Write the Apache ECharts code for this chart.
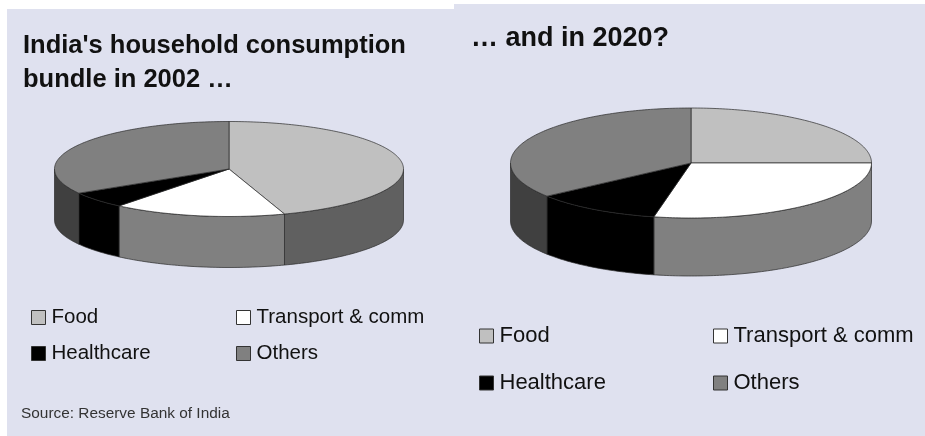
<!DOCTYPE html>
<html>
<head>
<meta charset="utf-8">
<script src="https://cdn.jsdelivr.net/npm/echarts@6/dist/echarts.min.js"></script>
<style>
html, body { margin: 0; padding: 0; background: #fff; }
#main { width: 925px; height: 436px; }
</style>
</head>
<body>
<div id="main"></div>
<script>
const categories = ["Food", "Transport & comm", "Healthcare", "Others"];
// share of each category in %, clockwise from 12 o'clock
const values2002 = [44.85, 16, 5.65, 33.5];
const values2020 = [25, 28.3, 11.4, 35.3];
const topColors = ["#c0c0c0", "#ffffff", "#000000", "#808080"];
const sideColors = ["#606060", "#808080", "#000000", "#404040"];

const pieValues = [values2002, values2020];
const pies = [
  { cx: 229, cy: 169, rx: 174.5, ry: 47.5, depth: 51 },
  { cx: 691, cy: 163, rx: 180.5, ry: 55, depth: 58 }
];
const panelColor = "#dfe1ef";
const lineColor = "#2a2a2a";

function rimPoint(pie, deg, drop) {
  // deg is clockwise from the top of the ellipse
  const a = deg * Math.PI / 180;
  return [pie.cx + pie.rx * Math.sin(a), pie.cy - pie.ry * Math.cos(a) + drop];
}

function arcPoints(pie, from, to, drop) {
  const pts = [];
  const steps = Math.max(2, Math.ceil(Math.abs(to - from)));
  for (let i = 0; i <= steps; i++) {
    pts.push(rimPoint(pie, from + (to - from) * i / steps, drop));
  }
  return pts;
}

function makeRender(catIndex) {
  return function (params, api) {
    const pieIndex = api.value(0);
    const pie = pies[pieIndex];
    const vals = pieValues[pieIndex];
    const total = vals.reduce((s, v) => s + v, 0);
    const before = vals.slice(0, catIndex).reduce((s, v) => s + v, 0);
    const start = before / total * 360;
    const end = start + api.value(1) / total * 360;
    const children = [];

    // only the front half of the rim shows a wall
    const wallFrom = Math.max(start, 90);
    const wallTo = Math.min(end, 270);
    if (wallTo > wallFrom) {
      const upper = arcPoints(pie, wallFrom, wallTo, 0);
      const lower = arcPoints(pie, wallTo, wallFrom, pie.depth);
      children.push({
        type: "polygon",
        shape: { points: upper.concat(lower) },
        style: { fill: sideColors[catIndex], stroke: lineColor, lineWidth: 0.7 }
      });
    }
    children.push({
      type: "polygon",
      z2: 5,
      shape: { points: [[pie.cx, pie.cy]].concat(arcPoints(pie, start, end, 0)) },
      style: { fill: topColors[catIndex], stroke: lineColor, lineWidth: 0.7 }
    });
    return { type: "group", children: children };
  };
}

const chart = echarts.init(document.getElementById("main"), null, { renderer: "canvas" });

chart.setOption({
  animation: false,
  backgroundColor: "#ffffff",
  graphic: [
    { type: "rect", z: -10, shape: { x: 7, y: 9, width: 450, height: 427 }, style: { fill: panelColor } },
    { type: "rect", z: -10, shape: { x: 454, y: 4, width: 471, height: 432 }, style: { fill: panelColor } }
  ],
  title: [
    {
      text: "India's household consumption\nbundle in 2002 \u2026",
      left: 23, top: 29, padding: 0,
      textStyle: { fontFamily: "Liberation Sans", fontWeight: "bold", fontSize: 25.5, lineHeight: 34, color: "#111" }
    },
    {
      text: "\u2026 and in 2020?",
      left: 471, top: 24, padding: 0,
      textStyle: { fontFamily: "Liberation Sans", fontWeight: "bold", fontSize: 27, lineHeight: 30, color: "#111" }
    },
    {
      text: "Source: Reserve Bank of India",
      left: 21, top: 406, padding: 0,
      textStyle: { fontFamily: "Liberation Sans", fontWeight: "normal", fontSize: 15.4, color: "#333" }
    }
  ],
  legend: [
    legendColumn([categories[0], categories[2]], 31, 307, 20.5, 15),
    legendColumn([categories[1], categories[3]], 236, 307, 20.5, 15),
    legendColumn([categories[0], categories[2]], 479, 325, 22, 25),
    legendColumn([categories[1], categories[3]], 713, 325, 22, 25)
  ],
  series: categories.map((name, i) => ({
    type: "custom",
    name: name,
    coordinateSystem: "none",
    itemStyle: { color: topColors[i] },
    renderItem: makeRender(i),
    data: pieValues.map((vals, p) => [p, vals[i]])
  }))
});

function legendColumn(names, left, top, fontSize, gap) {
  return {
    orient: "vertical",
    left: left,
    top: top,
    padding: 0,
    itemWidth: 14,
    itemHeight: 14,
    itemGap: gap,
    icon: "rect",
    selectedMode: false,
    data: names,
    itemStyle: { borderColor: "#333", borderWidth: 1 },
    textStyle: { fontFamily: "Liberation Sans", fontSize: fontSize, color: "#111", padding: [0, 0, 0, 1] }
  };
}
</script>
</body>
</html>
